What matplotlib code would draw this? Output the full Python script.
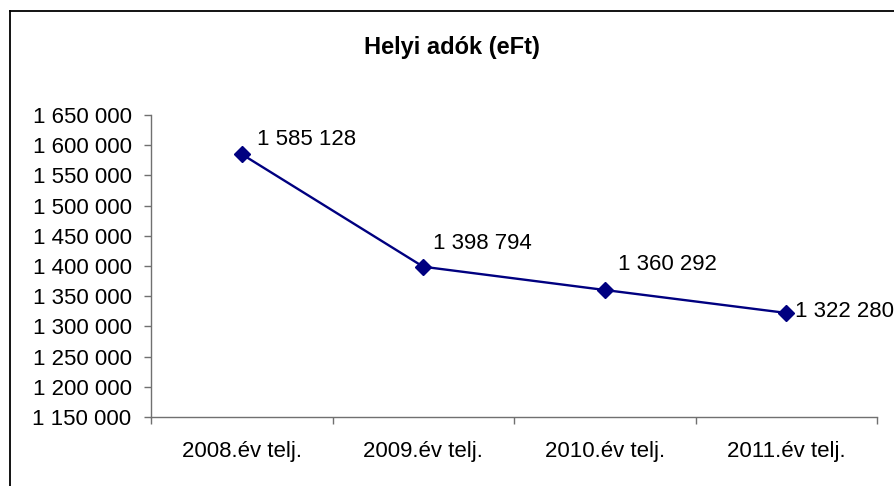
import matplotlib
matplotlib.use("Agg")
import matplotlib.pyplot as plt
from matplotlib.lines import Line2D
from matplotlib.ticker import FixedLocator, FuncFormatter

plt.rcParams['font.family'] = ['Liberation Sans', 'DejaVu Sans']

categories = ["2008.év telj.", "2009.év telj.", "2010.év telj.", "2011.év telj."]
values = [1585128, 1398794, 1360292, 1322280]
y_ticks = list(range(1150000, 1650001, 50000))
title = "Helyi adók (eFt)"

def fmt(v):
    return f"{int(v):,}".replace(",", " ")

W, H = 894, 486
fig = plt.figure(figsize=(W / 100, H / 100), dpi=100)
ax = fig.add_axes([151 / W, 1 - 417 / H, (877 - 151) / W, (417 - 115) / H])

x = list(range(len(categories)))
ax.plot(x, values, color="#000080", linewidth=1.7, marker="D", markersize=8.5,
        markerfacecolor="#000080", markeredgecolor="#000080", clip_on=False, zorder=3)

offsets = [(15, 15), (10, 23), (13, 25), (9, 1)]
for xi, v, (dx, dy) in zip(x, values, offsets):
    ax.annotate(fmt(v), (xi, v), xytext=(dx, dy), textcoords="offset pixels",
                ha="left", va="center", fontsize=16, color="black",
                annotation_clip=False)

ax.set_xlim(-0.5, len(categories) - 0.5)
ax.set_ylim(y_ticks[0], y_ticks[-1])
ax.yaxis.set_major_locator(FixedLocator(y_ticks))
ax.yaxis.set_major_formatter(FuncFormatter(lambda v, p: fmt(v)))
ax.set_xticks(x)
ax.set_xticklabels(categories)
ax.xaxis.set_minor_locator(FixedLocator([i - 0.5 for i in range(len(categories) + 1)]))

for s in ["top", "right"]:
    ax.spines[s].set_visible(False)
for s in ["left", "bottom"]:
    ax.spines[s].set_color("#707070")
    ax.spines[s].set_linewidth(1.0)

ax.tick_params(axis="y", which="major", direction="out", length=5, width=1,
               color="#707070", labelsize=16, pad=9)
ax.tick_params(axis="x", which="major", length=0, labelsize=16, pad=17)
ax.tick_params(axis="x", which="minor", direction="out", length=5, width=1,
               color="#707070")

fig.text(452 / W, 1 - 47 / H, title, ha="center", va="center",
         fontsize=17, fontweight="bold")

# outer chart-area border (left and top edges visible)
fig.add_artist(Line2D([9.5 / W, 9.5 / W], [0, 1 - 11.5 / H], transform=fig.transFigure,
                      color="black", linewidth=1.3))
fig.add_artist(Line2D([9.5 / W, 1], [1 - 11.5 / H, 1 - 11.5 / H], transform=fig.transFigure,
                      color="black", linewidth=1.3))

fig.savefig("out.png", dpi=100)
